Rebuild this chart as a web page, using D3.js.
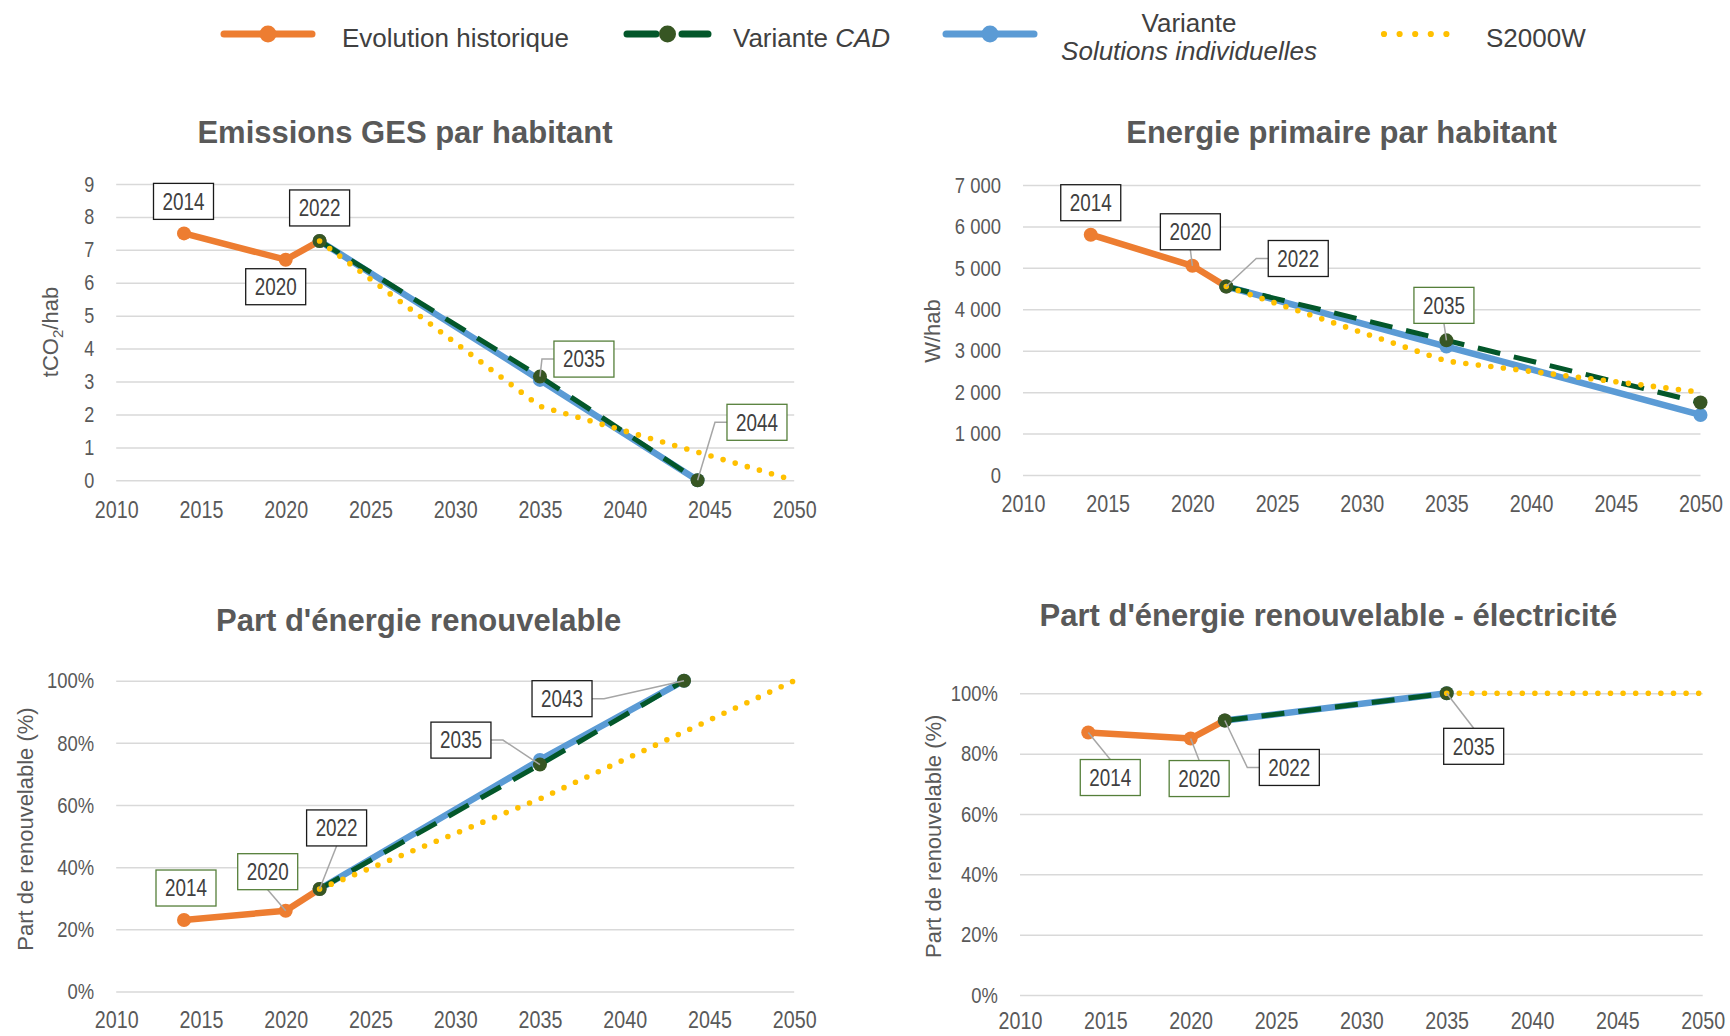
<!DOCTYPE html>
<meta charset="utf-8">
<style>
body { margin: 0; background: #fff; }
svg text { font-family: "Liberation Sans", Arial, sans-serif; }
</style>
<script src="https://cdn.jsdelivr.net/npm/d3@7"></script>
<body>
<script>
// ---- data ----
var xTicks = [2010, 2015, 2020, 2025, 2030, 2035, 2040, 2045, 2050];

// Emissions GES par habitant (tCO2/hab)
var gesHisto   = [[2014, 7.5], [2020, 6.7], [2022, 7.27]];
var gesCAD     = [[2022, 7.27], [2035, 3.15], [2044.3, 0]];
var gesIndiv   = [[2022, 7.27], [2035, 3.05], [2044.3, 0]];
var gesS2000W  = [[2022, 7.27], [2035, 2.25], [2050, 0]];
var gesTicks   = [0, 1, 2, 3, 4, 5, 6, 7, 8, 9];

// Energie primaire par habitant (W/hab)
var enHisto    = [[2014, 5800], [2020, 5050], [2022, 4550]];
var enCAD      = [[2022, 4550], [2035, 3250], [2050, 1750]];
var enIndiv    = [[2022, 4550], [2035, 3100], [2050, 1450]];
var enS2000W   = [[2022, 4550], [2035, 2750], [2050, 2000]];
var enTicks    = [0, 1000, 2000, 3000, 4000, 5000, 6000, 7000];

// Part d'energie renouvelable (%)
var renHisto   = [[2014, 23], [2020, 26], [2022, 33]];
var renCAD     = [[2022, 33], [2035, 73], [2043.5, 100]];
var renIndiv   = [[2022, 33], [2035, 74.5], [2043.5, 100]];
var renS2000W  = [[2022, 33], [2035, 62], [2050, 100]];

// Part d'energie renouvelable - electricite (%)
var elecHisto  = [[2014, 87], [2020, 85], [2022, 91]];
var elecCAD    = [[2022, 91], [2035, 100]];
var elecIndiv  = [[2022, 91], [2035, 100]];
var elecS2000W = [[2035, 100], [2050, 100]];
var pctTicks   = [0, 20, 40, 60, 80, 100];

// ---- styles ----
var styles = {
  hist:  {stroke: "#ED7D31", width: 6.5, dash: null, marker: "#ED7D31"},
  indiv: {stroke: "#5B9BD5", width: 6.5, dash: null, marker: "#5B9BD5"},
  cad:   {stroke: "#03572A", width: 5, dash: "23,14", marker: "#375623"},
  s2000: {stroke: "#FFC000", width: 5.6, dash: "0,12.6", marker: null}
};
var GREEN_BOX = "#557F3A";
var NARROW = 0.82;

var svg = d3.select("body").append("svg")
  .attr("width", 1730)
  .attr("height", 1036);

var fmtSpace = d3.formatLocale({decimal: ",", thousands: "\u00a0", grouping: [3], currency: ["", ""]}).format(",d");
var fmtPct = function(d) { return d + "%"; };

function drawChart(c) {
  var x = d3.scaleLinear().domain([2010, 2050]).range([c.left, c.right]);
  var y = d3.scaleLinear().domain([0, c.yMax]).range([c.bottom, c.top]);
  var g = svg.append("g");

  // gridlines + y tick labels
  g.append("g")
    .attr("transform", "translate(" + c.left + ",0)")
    .call(d3.axisLeft(y).tickValues(c.yTicks).tickSize(-(c.right - c.left)).tickFormat(c.fmt))
    .call(function(a) { a.select(".domain").remove(); })
    .call(function(a) { a.selectAll("line").attr("stroke", "#D9D9D9").attr("stroke-width", 1.5); })
    .call(function(a) {
      a.selectAll("text")
        .attr("x", 0)
        .attr("transform", "translate(-22,0) scale(" + NARROW + ",1)")
        .attr("fill", "#595959")
        .attr("font-size", c.yTickFs);
    });

  // x tick labels
  g.append("g")
    .attr("transform", "translate(0," + c.bottom + ")")
    .call(d3.axisBottom(x).tickValues(xTicks).tickSize(0).tickFormat(d3.format("d")))
    .call(function(a) { a.select(".domain").remove(); })
    .call(function(a) {
      a.selectAll("text")
        .attr("y", c.xTickDy)
        .attr("dy", null)
        .attr("transform", "scale(" + NARROW + ",1)")
        .attr("fill", "#595959")
        .attr("font-size", 24);
    });

  // title
  g.append("text")
    .attr("x", c.titleX).attr("y", c.titleY)
    .attr("text-anchor", "middle")
    .attr("font-size", 31).attr("font-weight", "bold")
    .attr("fill", "#595959")
    .text(c.title);

  // y axis title
  var yl = g.append("text")
    .attr("transform", "translate(" + c.labelX + "," + c.labelY + ") rotate(-90)")
    .attr("text-anchor", "middle")
    .attr("font-size", 22)
    .attr("fill", "#595959");
  c.yLabel(yl);

  var line = d3.line().x(function(d) { return x(d[0]); }).y(function(d) { return y(d[1]); });

  c.series.forEach(function(s) {
    var st = styles[s.key];
    g.append("path")
      .datum(s.data)
      .attr("d", line)
      .attr("fill", "none")
      .attr("stroke", st.stroke)
      .attr("stroke-width", st.width)
      .attr("stroke-linejoin", "round")
      .attr("stroke-linecap", st.dash && st.dash.indexOf("0,") === 0 ? "round" : "butt")
      .attr("stroke-dasharray", st.dash);
    if (st.marker) {
      g.selectAll(null)
        .data(s.data)
        .enter()
        .append("circle")
        .attr("cx", function(d) { return x(d[0]); })
        .attr("cy", function(d) { return y(d[1]); })
        .attr("r", 7)
        .attr("fill", st.marker);
    }
  });

  // data labels
  var bw = 60, bh = 36;
  c.labels.forEach(function(l) {
    var s = c.series.filter(function(q) { return q.key === l.series; })[0];
    var p = s.data.filter(function(d) { return d[0] === l.year; })[0];
    var px = x(p[0]), py = y(p[1]);
    var cx = px + l.dx, cy = py + l.dy;
    var x0 = cx - bw / 2, x1 = cx + bw / 2, y0 = cy - bh / 2, y1 = cy + bh / 2;
    var path = null;
    if (l.leader === "left") path = "M" + x0 + "," + cy + "H" + (x0 - 12) + "L" + px + "," + py;
    if (l.leader === "right") path = "M" + x1 + "," + cy + "H" + (x1 + 12) + "L" + px + "," + py;
    if (l.leader === "top") path = "M" + cx + "," + y0 + "L" + px + "," + py;
    if (l.leader === "bottom") path = "M" + cx + "," + y1 + "L" + px + "," + py;
    if (path) {
      g.append("path").attr("d", path).attr("fill", "none")
        .attr("stroke", "#A6A6A6").attr("stroke-width", 1.5);
    }
    g.append("rect")
      .attr("x", x0).attr("y", y0).attr("width", bw).attr("height", bh)
      .attr("fill", "#fff")
      .attr("stroke", l.box === "green" ? GREEN_BOX : "#1a1a1a")
      .attr("stroke-width", 1.3);
    g.append("text")
      .attr("transform", "translate(" + cx + "," + (cy + 8.2) + ") scale(" + NARROW + ",1)")
      .attr("text-anchor", "middle")
      .attr("font-size", 23)
      .attr("fill", "#404040")
      .text(l.text);
  });
}

drawChart({
  title: "Emissions GES par habitant",
  left: 116.2, right: 794.2, top: 184, bottom: 480.3, yMax: 9,
  yTicks: gesTicks, fmt: d3.format("d"), yTickFs: 22, xTickDy: 37.5,
  titleX: 405, titleY: 143, labelX: 58, labelY: 332,
  yLabel: function(t) {
    t.append("tspan").text("tCO");
    t.append("tspan").attr("font-size", 15).attr("dy", 5).text("2");
    t.append("tspan").attr("dy", -5).text("/hab");
  },
  series: [
    {key: "hist", data: gesHisto},
    {key: "indiv", data: gesIndiv},
    {key: "cad", data: gesCAD},
    {key: "s2000", data: gesS2000W}
  ],
  labels: [
    {series: "hist", year: 2014, text: "2014", box: "black", dx: -0.5, dy: -32, leader: null},
    {series: "hist", year: 2020, text: "2020", box: "black", dx: -10, dy: 27, leader: null},
    {series: "cad", year: 2022, text: "2022", box: "black", dx: 0, dy: -33, leader: null},
    {series: "cad", year: 2035, text: "2035", box: "green", dx: 44, dy: -17.5, leader: "left"},
    {series: "cad", year: 2044.3, text: "2044", box: "green", dx: 59.4, dy: -58, leader: "left"}
  ]
});

drawChart({
  title: "Energie primaire par habitant",
  left: 1023, right: 1700.5, top: 185, bottom: 475, yMax: 7000,
  yTicks: enTicks, fmt: fmtSpace, yTickFs: 22.5, xTickDy: 37.5,
  titleX: 1341.6, titleY: 143, labelX: 940, labelY: 331,
  yLabel: function(t) { t.text("W/hab"); },
  series: [
    {key: "hist", data: enHisto},
    {key: "indiv", data: enIndiv},
    {key: "cad", data: enCAD},
    {key: "s2000", data: enS2000W}
  ],
  labels: [
    {series: "hist", year: 2014, text: "2014", box: "black", dx: 0, dy: -32, leader: null},
    {series: "hist", year: 2020, text: "2020", box: "black", dx: -2, dy: -34, leader: "bottom"},
    {series: "cad", year: 2022, text: "2022", box: "black", dx: 72, dy: -28, leader: "left"},
    {series: "cad", year: 2035, text: "2035", box: "green", dx: -2.5, dy: -35, leader: "bottom"}
  ]
});

drawChart({
  title: "Part d'énergie renouvelable",
  left: 116.2, right: 794.2, top: 680.7, bottom: 991.5, yMax: 100,
  yTicks: pctTicks, fmt: fmtPct, yTickFs: 22.5, xTickDy: 36.5,
  titleX: 418.7, titleY: 630.5, labelX: 33, labelY: 829,
  yLabel: function(t) { t.text("Part de renouvelable (%)"); },
  series: [
    {key: "hist", data: renHisto},
    {key: "indiv", data: renIndiv},
    {key: "cad", data: renCAD},
    {key: "s2000", data: renS2000W}
  ],
  labels: [
    {series: "hist", year: 2014, text: "2014", box: "green", dx: 2, dy: -32, leader: null},
    {series: "hist", year: 2020, text: "2020", box: "green", dx: -18, dy: -39, leader: "bottom"},
    {series: "cad", year: 2022, text: "2022", box: "black", dx: 17, dy: -61, leader: "bottom"},
    {series: "cad", year: 2035, text: "2035", box: "black", dx: -79, dy: -24.5, leader: "right"},
    {series: "cad", year: 2043.5, text: "2043", box: "black", dx: -122, dy: 18, leader: "right"}
  ]
});

drawChart({
  title: "Part d'énergie renouvelable - électricité",
  left: 1020, right: 1702.7, top: 693.3, bottom: 995, yMax: 100,
  yTicks: pctTicks, fmt: fmtPct, yTickFs: 22.5, xTickDy: 34,
  titleX: 1328.4, titleY: 625.7, labelX: 941, labelY: 836.3,
  yLabel: function(t) { t.text("Part de renouvelable (%)"); },
  series: [
    {key: "hist", data: elecHisto},
    {key: "indiv", data: elecIndiv},
    {key: "cad", data: elecCAD},
    {key: "s2000", data: elecS2000W}
  ],
  labels: [
    {series: "hist", year: 2014, text: "2014", box: "green", dx: 22, dy: 45, leader: "top"},
    {series: "hist", year: 2020, text: "2020", box: "green", dx: 8.5, dy: 40, leader: "top"},
    {series: "cad", year: 2022, text: "2022", box: "black", dx: 64.5, dy: 47, leader: "left"},
    {series: "cad", year: 2035, text: "2035", box: "black", dx: 27, dy: 53, leader: "top"}
  ]
});

// ---- legend ----
var legendItems = [
  {key: "hist", x0: 224, x1: 312, dash: null},
  {key: "cad", x0: 627, x1: 708, dash: "29,26"},
  {key: "indiv", x0: 946, x1: 1034, dash: null},
  {key: "s2000", x0: 1384, x1: 1462, dash: "0,15.6"}
];
var lg = svg.append("g");
legendItems.forEach(function(it) {
  var st = styles[it.key];
  lg.append("line")
    .attr("x1", it.x0).attr("x2", it.x1).attr("y1", 34).attr("y2", 34)
    .attr("stroke", st.stroke)
    .attr("stroke-width", it.key === "s2000" ? 6.2 : 7)
    .attr("stroke-linecap", "round")
    .attr("stroke-dasharray", it.dash);
  if (st.marker) {
    lg.append("circle").attr("cx", (it.x0 + it.x1) / 2).attr("cy", 34).attr("r", 8.5).attr("fill", st.marker);
  }
});
lg.append("text").attr("x", 342).attr("y", 46.7).attr("font-size", 26).attr("fill", "#404040")
  .text("Evolution historique");
var tCad = lg.append("text").attr("x", 733).attr("y", 46.7).attr("font-size", 26).attr("fill", "#404040");
tCad.append("tspan").text("Variante ");
tCad.append("tspan").attr("font-style", "italic").text("CAD");
lg.append("text").attr("x", 1189).attr("y", 31.7).attr("font-size", 26).attr("fill", "#404040")
  .attr("text-anchor", "middle").text("Variante");
lg.append("text").attr("x", 1189).attr("y", 60.3).attr("font-size", 26).attr("fill", "#404040")
  .attr("text-anchor", "middle").attr("font-style", "italic").text("Solutions individuelles");
lg.append("text").attr("x", 1486).attr("y", 46.7).attr("font-size", 26).attr("fill", "#404040")
  .text("S2000W");
</script>
</body>
